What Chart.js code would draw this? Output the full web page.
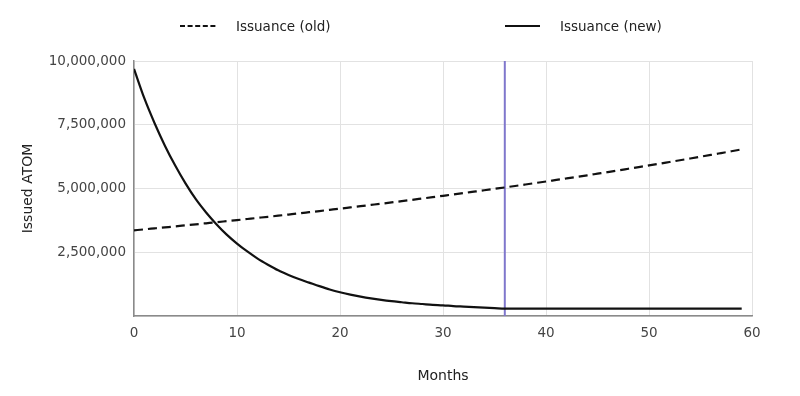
<!DOCTYPE html>
<html>
<head>
<meta charset="utf-8">
<script src="https://cdn.jsdelivr.net/npm/chart.js@4.4.1/dist/chart.umd.min.js"></script>
<style>
  html, body { margin: 0; padding: 0; background: #ffffff; }
  #wrap { width: 800px; height: 396px; position: relative; }
</style>
</head>
<body>
<div id="wrap"><canvas id="c" width="800" height="396"></canvas></div>
<script>
// ---- data ----
const months = [0,1,2,3,4,5,6,7,8,9,10,11,12,13,14,15,16,17,18,19,20,21,22,23,24,25,26,27,28,29,30,31,32,33,34,35,36,37,38,39,40,41,42,43,44,45,46,47,48,49,50,51,52,53,54,55,56,57,58,59];

const issuanceOld = [
  3360000,3398000,3437000,3476000,3515000,3555000,3595000,3636000,3677000,3719000,
  3761000,3804000,3847000,3890000,3934000,3979000,4024000,4070000,4116000,4163000,
  4210000,4258000,4306000,4355000,4404000,4454000,4505000,4556000,4608000,4660000,
  4713000,4766000,4820000,4875000,4930000,4986000,5042000,5099000,5157000,5216000,
  5275000,5335000,5395000,5456000,5518000,5581000,5644000,5708000,5773000,5838000,
  5904000,5971000,6039000,6107000,6176000,6246000,6317000,6389000,6461000,6534000
];

const issuanceNew = [
  9690000,8540000,7560000,6680000,5900000,5200000,4580000,4060000,3600000,3190000,
  2840000,2530000,2250000,2010000,1790000,1610000,1450000,1310000,1170000,1040000,
  930000,840000,760000,690000,630000,580000,540000,500000,470000,440000,
  420000,390000,370000,350000,330000,310000,290000,290000,290000,290000,
  290000,290000,290000,290000,290000,290000,290000,290000,290000,290000,
  290000,290000,290000,290000,290000,290000,290000,290000,290000,290000
];

const seriesLabels = ['Issuance (old)', 'Issuance (new)'];
const markerMonth = [36, 36];
const markerValues = [0, 10000000];

const yTicks = [0, 2500000, 5000000, 7500000, 10000000];
const xTicks = [0, 10, 20, 30, 40, 50, 60];

const FONT = '"DejaVu Sans", sans-serif';

const toXY = (xs, ys) => xs.map((x, i) => ({ x: x, y: ys[i] }));

// Legend drawn on the canvas with the datasets' own styles
const wideLegend = {
  id: 'wideLegend',
  afterDraw(chart) {
    const ctx = chart.ctx;
    const items = [
      { ds: 0, x0: 180, x1: 217, tx: 236 },
      { ds: 1, x0: 505, x1: 540, tx: 560 }
    ];
    const y = 26;
    ctx.save();
    items.forEach(it => {
      const d = chart.data.datasets[it.ds];
      ctx.strokeStyle = d.borderColor;
      ctx.lineWidth = 2;
      ctx.setLineDash(it.ds === 0 ? [5, 2.6] : []);
      ctx.beginPath();
      ctx.moveTo(it.x0, y);
      ctx.lineTo(it.x1, y);
      ctx.stroke();
      ctx.setLineDash([]);
      ctx.fillStyle = '#222';
      ctx.font = '13.5px ' + FONT;
      ctx.textBaseline = 'middle';
      ctx.textAlign = 'left';
      ctx.fillText(d.label, it.tx, y + 1);
    });
    ctx.restore();
  }
};

new Chart(document.getElementById('c'), {
  type: 'line',
  data: {
    datasets: [
      {
        label: seriesLabels[0],
        data: toXY(months, issuanceOld),
        borderColor: '#111111',
        borderWidth: 2.2,
        borderDash: [9, 5],
        pointRadius: 0,
        fill: false,
        cubicInterpolationMode: 'monotone'
      },
      {
        label: seriesLabels[1],
        data: toXY(months, issuanceNew),
        borderColor: '#111111',
        borderWidth: 2.2,
        pointRadius: 0,
        fill: false,
        cubicInterpolationMode: 'monotone'
      },
      {
        label: 'marker',
        data: toXY(markerMonth, markerValues),
        borderColor: '#7f77cc',
        borderWidth: 2,
        pointRadius: 0,
        fill: false
      }
    ]
  },
  options: {
    responsive: false,
    animation: false,
    events: [],
    layout: { padding: { left: 0, right: 48, top: 61, bottom: 0 } },
    plugins: {
      legend: { display: false },
      tooltip: { enabled: false }
    },
    scales: {
      x: {
        type: 'linear',
        min: 0,
        max: 60,
        afterBuildTicks: s => { s.ticks = xTicks.map(v => ({ value: v })); },
        afterFit: s => { s.height = 80; },
        grid: { color: '#e2e2e2', lineWidth: 1, drawTicks: false },
        border: { color: '#8a8a8a', width: 1.5 },
        ticks: {
          padding: 9,
          color: '#444',
          font: { family: FONT, size: 13.5 },
          maxRotation: 0
        },
        title: {
          display: true,
          text: 'Months',
          color: '#222',
          font: { family: FONT, size: 14 },
          padding: { top: 0, bottom: 11 }
        }
      },
      y: {
        min: 0,
        max: 10000000,
        afterBuildTicks: s => { s.ticks = yTicks.map(v => ({ value: v })); },
        afterFit: s => { s.width = 134; },
        grid: { color: '#e2e2e2', lineWidth: 1, drawTicks: false },
        border: { color: '#8a8a8a', width: 1.5 },
        ticks: {
          padding: 8,
          color: '#444',
          font: { family: FONT, size: 13.5 },
          callback: v => (v === 0 ? '' : Number(v).toLocaleString('en-US'))
        },
        title: {
          display: true,
          text: 'Issued ATOM',
          color: '#222',
          font: { family: FONT, size: 14 },
          padding: { top: 20, bottom: 0 }
        }
      }
    }
  },
  plugins: [wideLegend]
});
</script>
</body>
</html>
